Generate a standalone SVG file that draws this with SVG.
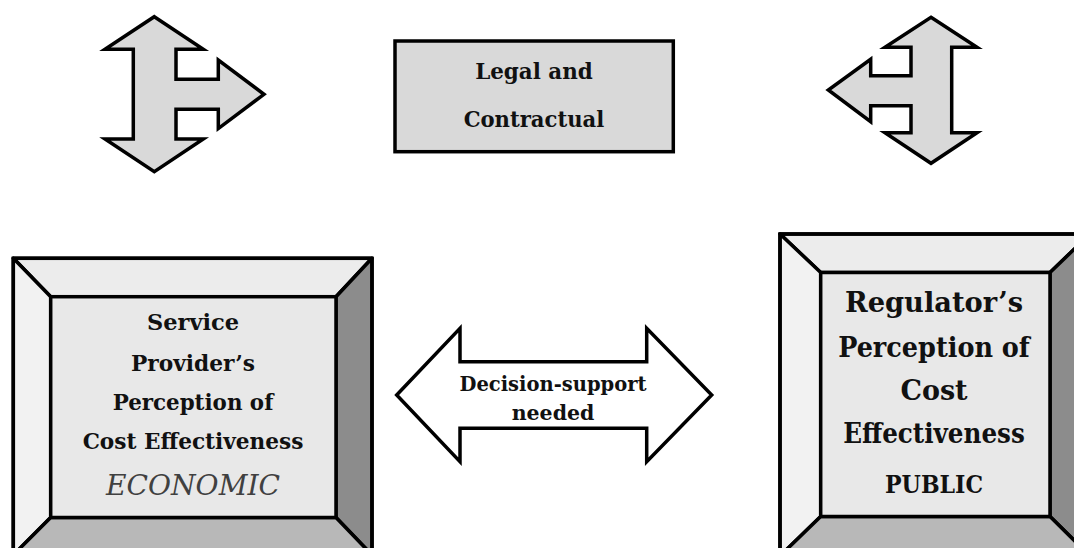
<svg xmlns="http://www.w3.org/2000/svg" width="1074" height="548" viewBox="0 0 1074 548">
<style>
.shape{stroke:#000;stroke-width:3.5;stroke-linejoin:miter}
.bev{stroke:#000;stroke-width:3.5;stroke-linejoin:round}
.frame{fill:none;stroke:#000;stroke-width:3.5}
.arr{fill:#d9d9d9}
.t{font-family:"DejaVu Serif","Liberation Serif",serif;font-weight:bold;fill:#111;text-anchor:middle}
.bt{fill:#ececec}.bl{fill:#f2f2f2}.br{fill:#8c8c8c}.bb{fill:#b8b8b8}.bc{fill:#e8e8e8}
</style>
<rect width="1074" height="548" fill="#fff"/>
<g id="connectors">
<polygon id="arrow-left" class="shape arr" points="154.3,16.7 203.3,49.3 176,49.3 176,79.3 218.3,79.3 218.3,60 264,94.3 218.3,128.6 218.3,109.3 176,109.3 176,139 203.3,139 154.3,171.7 105,139 133.3,139 133.3,49.3 105,49.3"/>
<polygon id="arrow-right" class="shape arr" points="931,17.3 977,47.3 951.7,47.3 951.7,132.8 977,132.8 931,163.3 885,132.8 911,132.8 911,105.7 870.7,105.7 870.7,121.7 828.3,90 870.7,59.3 870.7,75.7 911,75.7 911,47.3 885,47.3"/>
<polygon id="arrow-middle" class="shape" fill="#fff" points="396.7,395 460,328.3 460,361.7 646.7,361.7 646.7,328.3 711.7,395 646.7,461.7 646.7,428.3 460,428.3 460,461.7"/>
<text class="t" x="553" y="390.5" font-size="20.5" textLength="187" lengthAdjust="spacingAndGlyphs">Decision-support</text>
<text class="t" x="553" y="419.5" font-size="20.5">needed</text>
</g>
<g id="legal">
<rect class="shape" fill="#d9d9d9" x="395" y="41" width="278.3" height="110.7"/>
<text class="t" x="534" y="79" font-size="22.5" textLength="117.7" lengthAdjust="spacingAndGlyphs">Legal and</text>
<text class="t" x="534" y="126.5" font-size="22.5" textLength="140.7" lengthAdjust="spacingAndGlyphs">Contractual</text>
</g>
<g id="provider">
<polygon class="bev bt" points="13.3,258.3 372,258.3 336,296.7 50.7,296.7"/>
<polygon class="bev bl" points="13.3,258.3 50.7,296.7 50.7,517.5 13.3,555"/>
<polygon class="bev br" points="372,258.3 372,555 336,517.5 336,296.7"/>
<polygon class="bev bb" points="50.7,517.5 336,517.5 372,555 13.3,555"/>
<rect class="frame" x="13.3" y="258.3" width="358.7" height="296.7"/>
<rect class="shape bc" x="50.7" y="296.7" width="285.3" height="220.8"/>
<text class="t" x="193" y="330" font-size="22.5">Service</text>
<text class="t" x="193" y="370.5" font-size="22.5" textLength="124" lengthAdjust="spacingAndGlyphs">Provider’s</text>
<text class="t" x="193" y="410" font-size="22.5" textLength="160.7" lengthAdjust="spacingAndGlyphs">Perception of</text>
<text class="t" x="193" y="449" font-size="22.5" textLength="220.7" lengthAdjust="spacingAndGlyphs">Cost Effectiveness</text>
<text x="193" y="495" font-family="'DejaVu Serif','Liberation Serif',serif" font-style="italic" font-size="27" fill="#404040" text-anchor="middle" textLength="174" lengthAdjust="spacingAndGlyphs">ECONOMIC</text>
</g>
<g id="regulator">
<polygon class="bev bt" points="780,234 1090,234 1050,272.5 820.7,272.5"/>
<polygon class="bev bl" points="780,234 820.7,272.5 820.7,516.5 780,556"/>
<polygon class="bev br" points="1090,234 1090,556 1050,516.5 1050,272.5"/>
<polygon class="bev bb" points="820.7,516.5 1050,516.5 1090,556 780,556"/>
<rect class="frame" x="780" y="234" width="310" height="322"/>
<rect class="shape bc" x="820.7" y="272.5" width="229.3" height="244"/>
<text class="t" x="934" y="311.7" font-size="27" textLength="178" lengthAdjust="spacingAndGlyphs">Regulator’s</text>
<text class="t" x="934" y="356.7" font-size="27" textLength="191.7" lengthAdjust="spacingAndGlyphs">Perception of</text>
<text class="t" x="934" y="400" font-size="27">Cost</text>
<text class="t" x="934" y="442.7" font-size="27" textLength="181.7" lengthAdjust="spacingAndGlyphs">Effectiveness</text>
<text class="t" x="934" y="493.3" font-size="24" fill="#444" textLength="98" lengthAdjust="spacingAndGlyphs">PUBLIC</text>
</g>
</svg>
